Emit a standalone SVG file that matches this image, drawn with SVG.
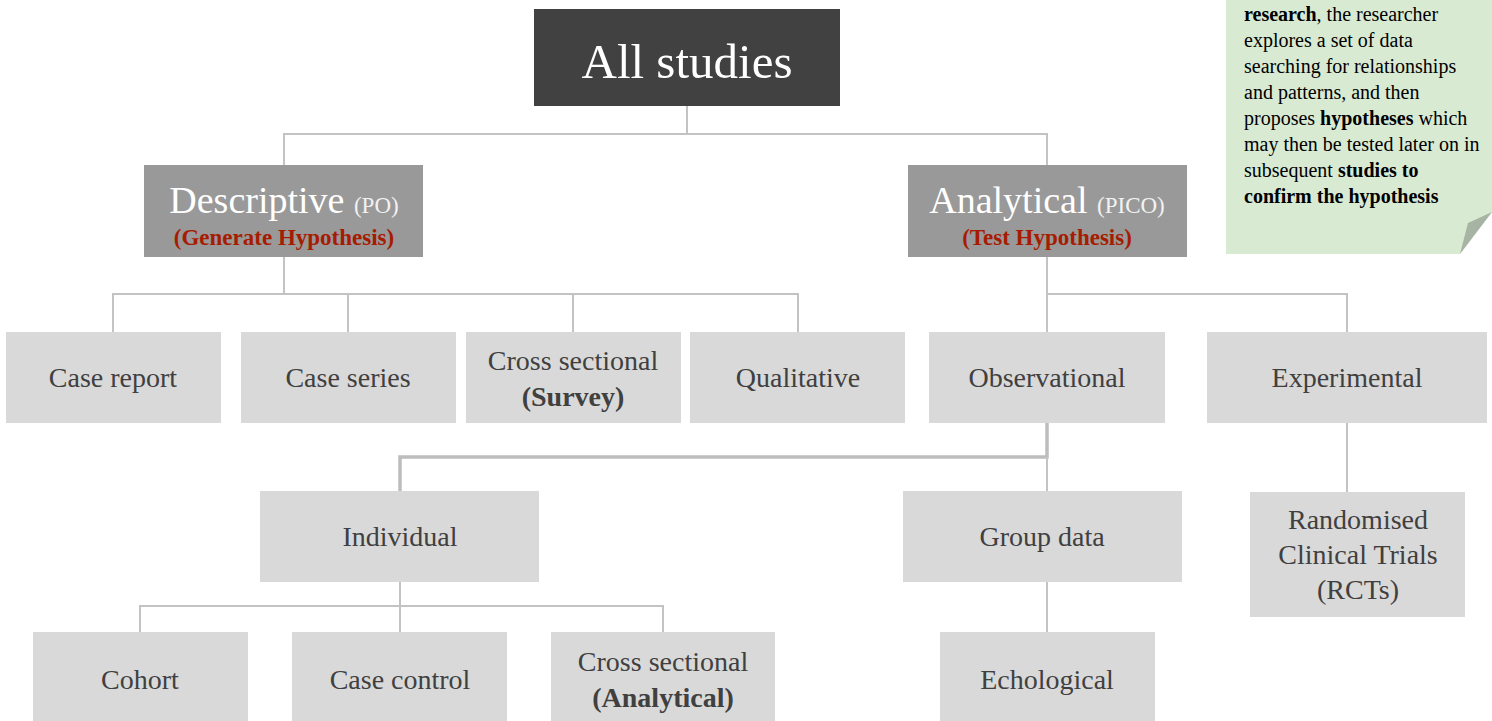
<svg xmlns="http://www.w3.org/2000/svg" width="1492" height="721" viewBox="0 0 1492 721">
<style>
text{font-family:"Liberation Serif","DejaVu Serif",serif;}
.leaf{fill:#d9d9d9;}
.mid{fill:#999999;}
.lt{fill:#404040;font-size:28px;text-anchor:middle;}
.b{font-weight:bold;}
.mt{fill:#ffffff;font-size:38px;text-anchor:middle;}
.sm{font-size:23px;fill:#f2f2f2;}
.red{fill:#a61c00;font-size:23px;font-weight:bold;text-anchor:middle;}
.c{fill:none;stroke:#c3c3c3;stroke-width:2;}
.ck{fill:none;stroke:#bdbdbd;stroke-width:3.5;}
.note{fill:#000000;font-size:20px;}
</style>
<rect x="0" y="0" width="1492" height="721" fill="#ffffff"/>
<g id="connectors">
<polyline class="c" points="687,106 687,134"/>
<polyline class="c" points="284,165 284,134 1047,134 1047,165"/>
<polyline class="c" points="284,257 284,294"/>
<polyline class="c" points="113,332 113,294 798,294 798,332"/>
<polyline class="c" points="348,294 348,332"/>
<polyline class="c" points="573,294 573,332"/>
<polyline class="c" points="1047,257 1047,294"/>
<polyline class="c" points="1047,294 1347,294 1347,332"/>
<polyline class="c" points="1047,294 1047,332"/>
<polyline class="ck" points="1047,423 1047,457 400,457 400,491"/>
<polyline class="c" points="1047,457 1047,491"/>
<polyline class="c" points="1347,423 1347,492"/>
<polyline class="c" points="400,582 400,632"/>
<polyline class="c" points="140,632 140,606 663,606 663,632"/>
<polyline class="c" points="1047,582 1047,632"/>
</g>
<g id="note">
<polygon points="1226,0 1492,0 1492,212 1460,254 1226,254" fill="#d9ead3"/>
<polygon points="1492,212 1468,223 1460,254" fill="#a7b3a3"/>
<text class="note" x="1244" y="21"><tspan class="b">research</tspan>, the researcher</text>
<text class="note" x="1244" y="47">explores a set of data</text>
<text class="note" x="1244" y="73">searching for relationships</text>
<text class="note" x="1244" y="99">and patterns, and then</text>
<text class="note" x="1244" y="125">proposes <tspan class="b">hypotheses</tspan> which</text>
<text class="note" x="1244" y="151">may then be tested later on in</text>
<text class="note" x="1244" y="177">subsequent <tspan class="b">studies to</tspan></text>
<text class="note" x="1244" y="203" font-weight="bold">confirm the hypothesis</text>
</g>
<g id="all-studies">
<rect x="534" y="9" width="306" height="97" fill="#414141"/>
<text x="687" y="78" fill="#ffffff" font-size="49" text-anchor="middle">All studies</text>
</g>
<g id="descriptive">
<rect class="mid" x="144" y="165" width="279" height="92"/>
<text class="mt" x="284" y="213">Descriptive <tspan class="sm">(PO)</tspan></text>
<text class="red" x="284" y="245">(Generate Hypothesis)</text>
</g>
<g id="analytical">
<rect class="mid" x="908" y="165" width="279" height="92"/>
<text class="mt" x="1047" y="213">Analytical <tspan class="sm">(PICO)</tspan></text>
<text class="red" x="1047" y="245">(Test Hypothesis)</text>
</g>
<g id="case-report">
<rect class="leaf" x="6" y="332" width="215" height="91"/>
<text class="lt" x="113" y="387">Case report</text>
</g>
<g id="case-series">
<rect class="leaf" x="241" y="332" width="215" height="91"/>
<text class="lt" x="348" y="387">Case series</text>
</g>
<g id="cross-sectional-survey">
<rect class="leaf" x="466" y="332" width="215" height="91"/>
<text class="lt" x="573" y="370">Cross sectional</text>
<text class="lt b" x="573" y="406">(Survey)</text>
</g>
<g id="qualitative">
<rect class="leaf" x="690" y="332" width="215" height="91"/>
<text class="lt" x="798" y="387">Qualitative</text>
</g>
<g id="observational">
<rect class="leaf" x="929" y="332" width="236" height="91"/>
<text class="lt" x="1047" y="387">Observational</text>
</g>
<g id="experimental">
<rect class="leaf" x="1207" y="332" width="280" height="91"/>
<text class="lt" x="1347" y="387">Experimental</text>
</g>
<g id="individual">
<rect class="leaf" x="260" y="491" width="279" height="91"/>
<text class="lt" x="400" y="546">Individual</text>
</g>
<g id="group-data">
<rect class="leaf" x="903" y="491" width="279" height="91"/>
<text class="lt" x="1042" y="546">Group data</text>
</g>
<g id="rcts">
<rect class="leaf" x="1250" y="492" width="215" height="125"/>
<text class="lt" x="1358" y="529">Randomised</text>
<text class="lt" x="1358" y="564">Clinical Trials</text>
<text class="lt" x="1358" y="599">(RCTs)</text>
</g>
<g id="cohort">
<rect class="leaf" x="33" y="632" width="215" height="89"/>
<text class="lt" x="140" y="689">Cohort</text>
</g>
<g id="case-control">
<rect class="leaf" x="292" y="632" width="215" height="89"/>
<text class="lt" x="400" y="689">Case control</text>
</g>
<g id="cross-sectional-analytical">
<rect class="leaf" x="551" y="632" width="224" height="89"/>
<text class="lt" x="663" y="671">Cross sectional</text>
<text class="lt b" x="663" y="707">(Analytical)</text>
</g>
<g id="echological">
<rect class="leaf" x="940" y="632" width="215" height="89"/>
<text class="lt" x="1047" y="689">Echological</text>
</g>
</svg>
